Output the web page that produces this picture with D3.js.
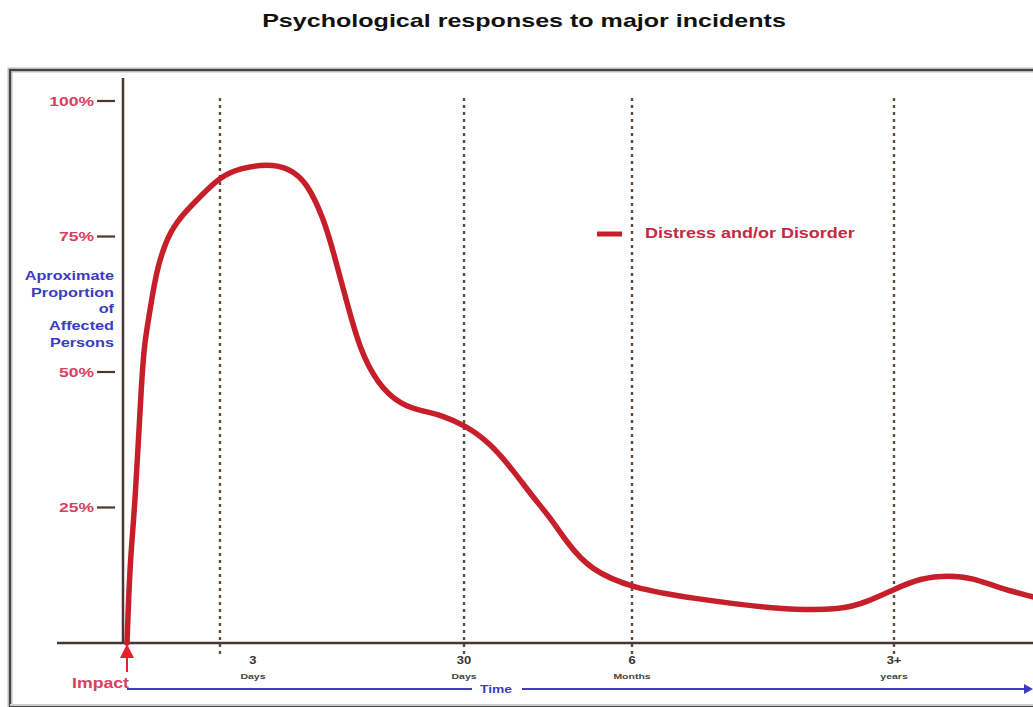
<!DOCTYPE html>
<html><head><meta charset="utf-8">
<script src="https://cdn.jsdelivr.net/npm/d3@7"></script>
<style>
html,body{margin:0;padding:0;background:#fff;overflow:hidden}
svg{display:block}
text{font-family:"Liberation Sans",Arial,sans-serif}
</style></head><body>
<svg id="chart" width="1033" height="707"></svg>
<script>
// ---- data ----
const title = "Psychological responses to major incidents";
const seriesName = "Distress and/or Disorder";
// relative time (0 = impact, 100 = right edge) and approximate % affected
const timeRel = [0, 0.33, 0.88, 1.66, 1.99, 2.54, 3.31, 4.75, 6.62, 8.06, 10.26, 12.47, 15.45, 17.99, 19.87, 21.63, 22.74, 24.28, 25.72, 27.59, 30.13, 33.11, 34.55, 37.31, 40.07, 42.6, 44.81, 46.69, 48.57, 51.1, 55.85, 62.14, 72.08, 79.03, 81.68, 84.55, 87.53, 90.84, 93.38, 96.03, 100];
const distress = [0, 15.3, 24.9, 50.4, 55.9, 61.4, 69.4, 76.2, 79.9, 82.3, 86.0, 87.6, 88.4, 87.6, 84.9, 78.6, 72.5, 62.7, 54.1, 48.0, 43.9, 42.6, 42.1, 40.2, 36.9, 31.9, 26.9, 23.2, 18.5, 13.5, 10.1, 8.3, 6.1, 6.1, 7.6, 9.8, 12.0, 12.5, 12.0, 10.3, 8.5];
const yTicks = [100, 75, 50, 25];
const yTickLabels = ["100%", "75%", "50%", "25%"];
const yAxisLabel = ["Aproximate", "Proportion", "of", "Affected", "Persons"];
const markerTimes = [10.26, 37.2, 55.74, 84.66];
const markerLabelTimes = [13.9, 37.2, 55.74, 84.66];
const markerNumbers = ["3", "30", "6", "3+"];
const markerUnits = ["Days", "Days", "Months", "years"];

// ---- drawing ----
const svg = d3.select("#chart");
const x = d3.scaleLinear().domain([0, 100]).range([127, 1033]);
const y = d3.scaleLinear().domain([0, 100]).range([643, 101]);

const RED = "#c71f2a", PINK = "#d7405f", BLUE = "#3b3bc4", BROWN = "#4a3434";

// horizontally stretched text helper (reference image is widened)
function txt(parent, px, py, str, o) {
  const g = parent.append("g");
  const t = g.append("text").attr("x", 0).attr("y", 0)
    .attr("text-anchor", o.anchor || "start")
    .attr("font-size", o.size).attr("font-weight", o.weight || "bold")
    .attr("fill", o.fill).text(str);
  if (o.family) t.attr("font-family", o.family);
  if (o.dy) t.attr("dy", o.dy);
  const L = t.node().getComputedTextLength();
  const sx = o.width ? o.width / L : (o.sx || 1.32);
  g.attr("transform", `translate(${px},${py}) scale(${sx},1)`);
  return g;
}

txt(svg, 524, 27, title, {anchor: "middle", size: 19, fill: "#111", width: 524});

// frame
svg.append("rect").attr("x", 10).attr("y", 70).attr("width", 1040).attr("height", 660)
  .attr("fill", "none").attr("stroke", "#bbb").attr("stroke-width", 5);
svg.append("rect").attr("x", 10).attr("y", 70).attr("width", 1040).attr("height", 636)
  .attr("fill", "none").attr("stroke", "#444").attr("stroke-width", 2);
svg.append("line").attr("x1", 10).attr("x2", 1033).attr("y1", 705).attr("y2", 705)
  .attr("stroke", "#ccc").attr("stroke-width", 2);

// dotted vertical markers
svg.append("g").selectAll("line").data(markerTimes).join("line")
  .attr("x1", d => x(d)).attr("x2", d => x(d)).attr("y1", 98).attr("y2", 654)
  .attr("stroke", "#5e4e40").attr("stroke-width", 2.4).attr("stroke-dasharray", "3,4");

// axes
svg.append("line").attr("x1", 123).attr("x2", 123).attr("y1", 78).attr("y2", y(0))
  .attr("stroke", BROWN).attr("stroke-width", 2.5);
svg.append("line").attr("x1", 57).attr("x2", 1033).attr("y1", y(0)).attr("y2", y(0))
  .attr("stroke", BROWN).attr("stroke-width", 2.5);

// y ticks (dash separated from axis)
yTicks.forEach((d, i) => {
  svg.append("line").attr("x1", 97).attr("x2", 115).attr("y1", y(d)).attr("y2", y(d))
    .attr("stroke", BROWN).attr("stroke-width", 2.2);
  txt(svg, 94, y(d), yTickLabels[i], {anchor: "end", size: 13, fill: PINK, dy: "0.35em", sx: 1.35});
});

// y axis label
yAxisLabel.forEach((d, i) => {
  txt(svg, 114, 280 + i * 16.7, d, {anchor: "end", size: 12.5, fill: BLUE, sx: 1.3});
});

// x marker labels
markerLabelTimes.forEach((d, i) => {
  txt(svg, x(d), 664, markerNumbers[i], {anchor: "middle", size: 10, fill: "#333", sx: 1.3});
  txt(svg, x(d), 679, markerUnits[i], {anchor: "middle", size: 7.5, fill: "#444", sx: 1.4});
});

// impact arrow
svg.append("line").attr("x1", x(0)).attr("x2", x(0)).attr("y1", 650).attr("y2", 672)
  .attr("stroke", "#e8202a").attr("stroke-width", 2);
svg.append("path").attr("d", `M${x(0)},644 L${x(0) - 7},658 L${x(0) + 7},658 Z`).attr("fill", "#e8202a");
txt(svg, 129, 688, "Impact", {anchor: "end", size: 14, fill: PINK, width: 57});

// time arrow
svg.append("line").attr("x1", x(0)).attr("x2", 472).attr("y1", 689).attr("y2", 689)
  .attr("stroke", BLUE).attr("stroke-width", 2);
txt(svg, 496, 693, "Time", {anchor: "middle", size: 11.5, fill: BLUE, width: 32});
svg.append("line").attr("x1", 522).attr("x2", 1026).attr("y1", 689).attr("y2", 689)
  .attr("stroke", BLUE).attr("stroke-width", 2);
svg.append("path").attr("d", "M1033,689 L1024,684 L1024,694 Z").attr("fill", BLUE);

// curve
const pts = timeRel.map((t, i) => [t, distress[i]]);
svg.append("path").datum(pts)
  .attr("d", d3.line().x(d => x(d[0])).y(d => y(d[1])).curve(d3.curveBasis))
  .attr("fill", "none").attr("stroke", RED).attr("stroke-width", 5.5)
  .attr("stroke-linejoin", "round").attr("stroke-linecap", "round");

// legend
svg.append("line").attr("x1", 597).attr("x2", 622).attr("y1", 234).attr("y2", 234)
  .attr("stroke", RED).attr("stroke-width", 5);
txt(svg, 645, 233, seriesName, {anchor: "start", size: 14.5, fill: "#c8283f", dy: "0.35em", width: 210});
</script>
</body></html>
